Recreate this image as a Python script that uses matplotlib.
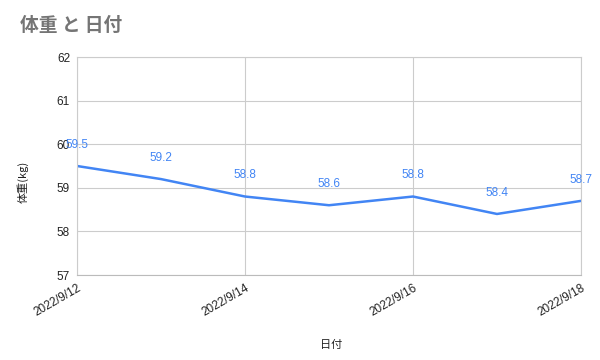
import matplotlib
matplotlib.use("Agg")
import matplotlib.pyplot as plt
import numpy as np

plt.rcParams['font.family'] = ['Noto Sans CJK JP', 'DejaVu Sans']

dates = ["2022/9/12", "2022/9/13", "2022/9/14", "2022/9/15", "2022/9/16", "2022/9/17", "2022/9/18"]
weights = [59.5, 59.2, 58.8, 58.6, 58.8, 58.4, 58.7]
tick_labels = ["2022/9/12", "2022/9/14", "2022/9/16", "2022/9/18"]
yticks = [57, 58, 59, 60, 61, 62]

fig = plt.figure(figsize=(6, 3.6), dpi=100)
ax = fig.add_axes([77/600, 1-275/360, (581-77)/600, (275-57)/360])

x = np.arange(len(dates))
ax.plot(x, weights, color='#4285f4', linewidth=1.8)
for xi, w in zip(x, weights):
    ax.annotate(f"{w}", (xi, w), xytext=(0, 11), textcoords='offset points',
                ha='center', va='bottom', color='#4285f4', fontsize=8.5,
                family=['Liberation Sans', 'DejaVu Sans'])

ax.set_xlim(0, 6)
ax.set_ylim(57, 62)
ax.set_yticks(yticks)
ax.set_yticklabels([str(t) for t in yticks], family=['Liberation Sans', 'DejaVu Sans'])
ax.set_xticks([0, 2, 4, 6])
ax.set_xticklabels(tick_labels, rotation=30, ha='right', rotation_mode='anchor',
                   family=['Liberation Sans', 'DejaVu Sans'])
ax.tick_params(axis='both', length=0, labelsize=8.5, colors='#222222', pad=5)
ax.grid(True, color='#cccccc', linewidth=0.8)
ax.set_axisbelow(True)
for s in ax.spines.values():
    s.set_color('#cccccc')
    s.set_linewidth(0.8)
ax.spines['bottom'].set_color('#bbbbbb')

ax.set_ylabel("体重(kg)", fontsize=8, color='#222222')
ax.yaxis.set_label_coords((29-77)/504, (275-182)/218)
ax.set_xlabel("日付", fontsize=8, color='#222222')
ax.xaxis.set_label_coords((331-77)/504, (275-340)/218)
fig.text(20/600, 1-25/360, "体重 と 日付", fontsize=13.5, color='#757575',
         fontweight='bold', va='center', ha='left')

fig.savefig("out.png", dpi=100)
